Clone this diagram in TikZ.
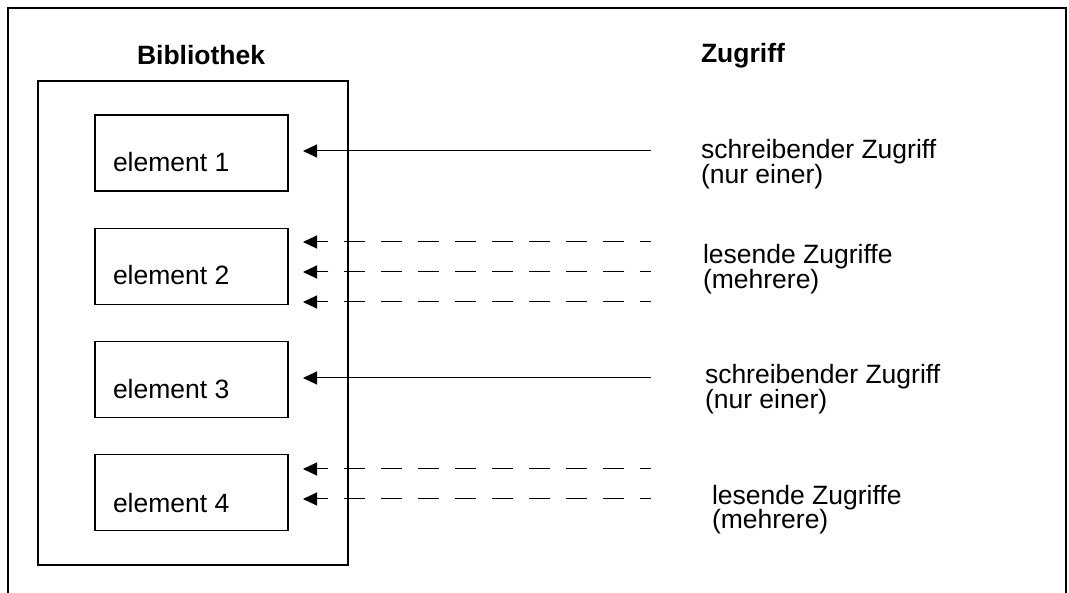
\documentclass[tikz,border=0pt]{standalone}
\usepackage{fontspec}
\setmainfont{Liberation Sans}
\usetikzlibrary{arrows.meta}

\begin{document}
\begin{tikzpicture}[x=1pt, y=-1pt,
  every node/.style={inner sep=0pt, outer sep=0pt},
  txt/.style={anchor=base west, font=\fontsize{26.5}{30}\selectfont},
  head/.style={txt, font=\fontsize{26.5}{30}\selectfont\bfseries},
  frame/.style={line width=1.3pt},
  libbox/.style={draw, line width=1.6pt, rectangle},
  elbox/.style={draw, line width=1.6pt, rectangle, minimum width=193pt, minimum height=76pt},
  wr/.style={line width=1pt, -{Triangle[length=14pt, width=13pt]}},
  rd/.style={wr, dash pattern=on 21pt off 16pt, dash phase=10pt}
]
\useasboundingbox (0,0) rectangle (1069,593);

% outer frame, open at the bottom
\draw[frame] (8,593) -- (8,8) -- (1066,8) -- (1066,593);

% headings
\node[head] (hlib) at (137,65) {Bibliothek};
\node[head] (hacc) at (701,63) {Zugriff};

% library container
\node[libbox, minimum width=310pt, minimum height=484pt] (lib) at (193,323) {};

% library elements
\node[elbox] (e1) at (191.5,153) {};
\node[elbox] (e2) at (191.5,266.5) {};
\node[elbox] (e3) at (191.5,379.5) {};
\node[elbox] (e4) at (191.5,492.5) {};
\node[txt] (t1) at (113,172) {element 1};
\node[txt] (t2) at (113,285) {element 2};
\node[txt] (t3) at (113,399) {element 3};
\node[txt] (t4) at (113,512) {element 4};

% access sources (right ends) and arrow tips
\foreach \n/\y in {a/151, b1/242, b2/272, b3/302, c/378, d1/469, d2/499} {
  \coordinate (s\n) at (651,\y);
  \coordinate (p\n) at (303,\y);
}

% writing access: one solid arrow
\draw[wr] (sa) -- (pa);
\draw[wr] (sc) -- (pc);

% reading access: several dashed arrows
\draw[rd] (sb1) -- (pb1);
\draw[rd] (sb2) -- (pb2);
\draw[rd] (sb3) -- (pb3);
\draw[rd] (sd1) -- (pd1);
\draw[rd] (sd2) -- (pd2);

% access labels
\node[txt] (l1a) at (701,159) {schreibender Zugriff};
\node[txt] (l1b) at (701,184) {(nur einer)};
\node[txt] (l2a) at (703,264) {lesende Zugriffe};
\node[txt] (l2b) at (703,289) {(mehrere)};
\node[txt] (l3a) at (705,384) {schreibender Zugriff};
\node[txt] (l3b) at (705,409) {(nur einer)};
\node[txt] (l4a) at (712,504) {lesende Zugriffe};
\node[txt] (l4b) at (712,529) {(mehrere)};
\end{tikzpicture}
\end{document}
